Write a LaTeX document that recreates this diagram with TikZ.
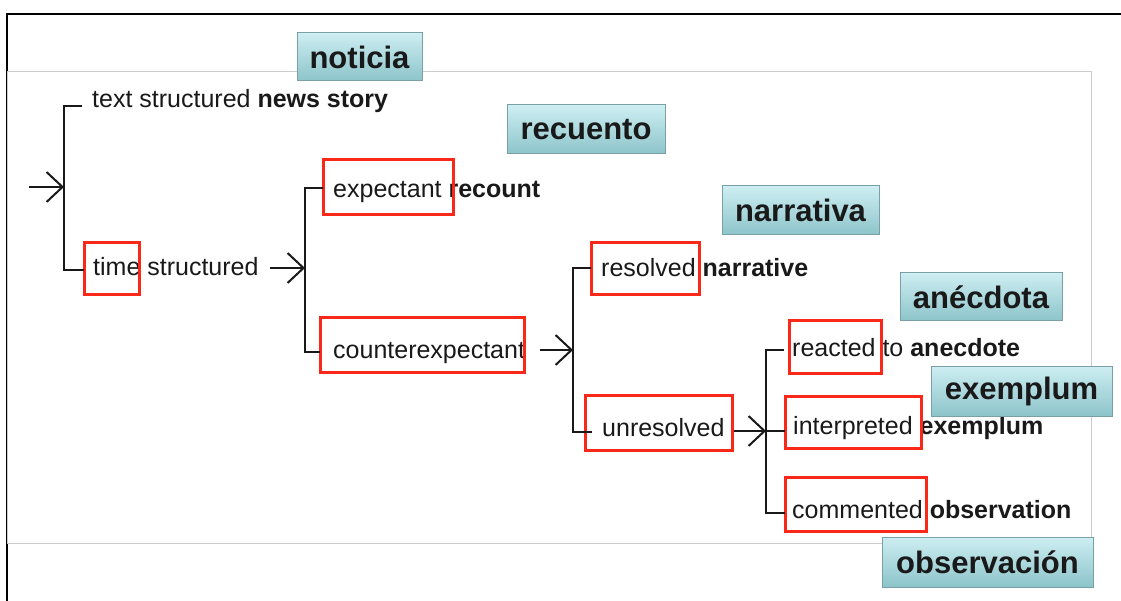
\documentclass[tikz,border=0pt]{standalone}
\usepackage{fontspec}
\setmainfont{Liberation Sans}
\usetikzlibrary{arrows.meta}
\definecolor{hlred}{RGB}{250,40,25}
\definecolor{tagtop}{RGB}{205,238,242}
\definecolor{tagbot}{RGB}{140,196,202}
\definecolor{tagedge}{RGB}{120,160,166}
\definecolor{inkc}{RGB}{25,25,25}
\tikzset{
  lbl/.style={anchor=base west, inner sep=0pt, text=inkc, font=\fontsize{25}{30}\selectfont},
  hl/.style={draw=hlred, line width=3pt, inner sep=0pt},
  tagbox/.style={draw=tagedge, line width=1pt, top color=tagtop, bottom color=tagbot,
    inner sep=0pt, text=black!90, font=\fontsize{31}{36}\selectfont\bfseries},
  brk/.style={draw=inkc, line width=2pt},
  arr/.style={draw=inkc, line width=2pt, -{Straight Barb[length=16pt,width=30pt,line width=2pt]}},
}
\begin{document}
\begin{tikzpicture}[x=1pt,y=-1pt]
\useasboundingbox (0,0) rectangle (1121,601);
\fill[white] (0,0) rectangle (1121,601);
% frame
\draw[black, line width=2.5pt] (7,601) -- (7,14) -- (1121,14);
\draw[black!20, line width=1pt] (7,72) rectangle (1091,543);

% text nodes
\node[lbl] (t1) at (92,108) {text structured \textbf{news story}};
\node[lbl] (t2) at (93,276) {time structured};
\node[lbl] (t3) at (333,198) {expectant \textbf{recount}};
\node[lbl] (t4) at (333,358) {counterexpectant};
\node[lbl] (t5) at (601,277) {resolved \textbf{narrative}};
\node[lbl] (t6) at (602,436) {unresolved};
\node[lbl] (t7) at (792,356) {reacted to \textbf{anecdote}};
\node[lbl] (t8) at (793,434) {interpreted \textbf{exemplum}};
\node[lbl] (t9) at (792,518) {commented \textbf{observation}};

% red highlight boxes
\node[hl, minimum width=55pt, minimum height=52pt] (h2) at (111.5,269) {};
\node[hl, minimum width=130pt, minimum height=55pt] (h3) at (388,187.5) {};
\node[hl, minimum width=204pt, minimum height=54pt] (h4) at (422,345) {};
\node[hl, minimum width=108pt, minimum height=52pt] (h5) at (645,269) {};
\node[hl, minimum width=147pt, minimum height=55pt] (h6) at (658.5,422.5) {};
\node[hl, minimum width=92pt, minimum height=52pt] (h7) at (835,347) {};
\node[hl, minimum width=136pt, minimum height=52pt] (h8) at (853,422) {};
\node[hl, minimum width=141pt, minimum height=54pt] (h9) at (855.5,504) {};

% bracket coordinates
\coordinate (a0) at (29,187);
\coordinate (b1) at (64,187);
\coordinate (k1a) at (82,106);
\coordinate (k1b) at (84,270);
\coordinate (a1) at (270,268);
\coordinate (b2) at (305,268);
\coordinate (k2a) at (323,188);
\coordinate (k2b) at (320,352);
\coordinate (a2) at (540,350);
\coordinate (b3) at (573,350);
\coordinate (k3a) at (591,268);
\coordinate (k3b) at (592,432);
\coordinate (b4) at (766,431);
\coordinate (k4a) at (784,350);
\coordinate (k4b) at (785,431);
\coordinate (k4c) at (785,513);

% brackets
\draw[brk] (k1a) -| (b1) |- (k1b);
\draw[brk] (k2a) -| (b2) |- (k2b);
\draw[brk] (k3a) -| (b3) |- (k3b);
\draw[brk] (k4a) -| (b4) |- (k4c);
\draw[brk] (b4) -- (k4b);

% arrows
\draw[arr] (a0) -- (b1);
\draw[arr] (a1) -- (b2);
\draw[arr] (a2) -- (b3);
\draw[arr] (h6.east |- b4) -- (b4);

% tags
\node[tagbox, minimum width=125pt, minimum height=48pt] (g1) at (359.5,57) {noticia};
\node[tagbox, minimum width=158pt, minimum height=49pt] (g2) at (586,129.5) {recuento};
\node[tagbox, minimum width=157pt, minimum height=49pt] (g3) at (800.5,210.5) {narrativa};
\node[tagbox, minimum width=162pt, minimum height=48pt] (g4) at (981,297) {anécdota};
\node[tagbox, minimum width=181pt, minimum height=50pt] (g5) at (1021.5,391) {exemplum};
\node[tagbox, minimum width=211pt, minimum height=50pt] (g6) at (987.5,562) {observación};
\end{tikzpicture}
\end{document}
